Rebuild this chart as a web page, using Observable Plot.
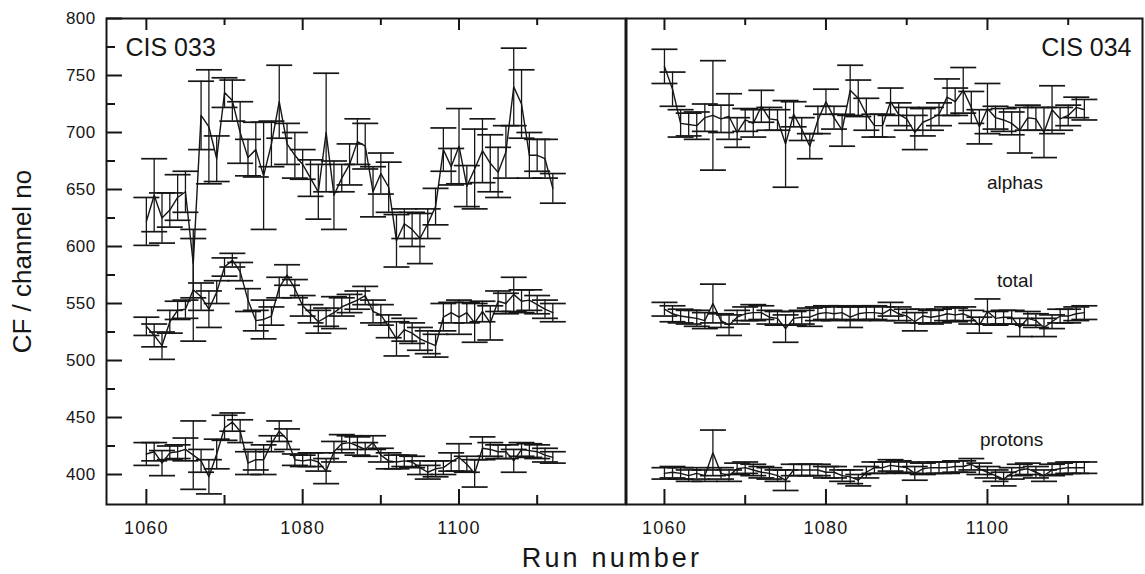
<!DOCTYPE html>
<html>
<head>
<meta charset="utf-8">
<script src="https://cdn.jsdelivr.net/npm/d3@7"></script>
<script src="https://cdn.jsdelivr.net/npm/@observablehq/plot@0.6"></script>
<style>
  html, body { margin: 0; padding: 0; background: #fff; }
  #chart { position: relative; width: 1145px; height: 574px; background: #fff;
           font-family: "Liberation Sans", Arial, Helvetica, sans-serif; color: #161616; }
  #left { position: absolute; left: 0; top: 0; }
  #right { position: absolute; left: 625px; top: 0; }
  #xtitle { position: absolute; left: 412px; width: 400px; top: 543px; height: 30px; text-align: center;
            font-size: 27px; line-height: 30px; letter-spacing: 3.2px; }
  svg text { font-family: "Liberation Sans", Arial, Helvetica, sans-serif; }
  g[aria-label="x-axis tick label"] text { letter-spacing: 1.2px; }
  g[aria-label="y-axis tick label"] text { letter-spacing: 0.4px; }
  g[aria-label="ytitle"] text { letter-spacing: 1.9px; }
  g[aria-label="panel"] text { letter-spacing: 1.4px; }
  g[aria-label="series"] text { letter-spacing: 1.4px; }
</style>
</head>
<body>
<div id="chart">
  <div id="left"></div>
  <div id="right"></div>
  <div id="xtitle">Run number</div>
</div>
<script>
// ---------- data ----------
const runs = [1060,1061,1062,1063,1064,1065,1066,1067,1068,1069,
              1070,1071,1072,1073,1074,1075,1076,1077,1078,1079,
              1080,1081,1082,1083,1084,1085,1086,1087,1088,1089,
              1090,1091,1092,1093,1094,1095,1096,1097,1098,1099,
              1100,1101,1102,1103,1104,1105,1106,1107,1108,1109,
              1110,1111,1112];

const panels = ["CIS 033", "CIS 034"];
const seriesNames = ["alphas", "total", "protons"];

// CIS 033
const alphas033 = [622,645,625,632,643,648,585,715,705,677,
                   735,728,700,678,685,662,690,727,690,680,
                   672,660,648,700,645,660,672,692,688,648,
                   664,652,605,620,615,607,620,635,685,670,
                   688,653,668,684,673,665,683,740,725,680,
                   680,677,651];
const alphasErr033 = [21,32,22,15,20,18,30,30,50,20,
                      13,18,27,16,24,47,20,32,18,20,
                      13,16,24,52,30,12,18,20,20,22,
                      18,22,23,13,15,22,13,16,19,16,
                      33,18,35,28,25,22,23,34,30,20,
                      14,17,13];
const total033 = [530,522,513,534,544,545,562,556,545,560,
                  582,588,578,553,535,536,539,564,575,563,
                  548,541,534,538,542,547,550,553,557,543,
                  540,530,519,527,524,519,516,513,538,542,
                  538,542,533,543,533,552,550,558,552,553,
                  549,545,542];
const totalErr033 = [8,10,12,10,8,8,45,12,16,10,
                     8,6,8,10,9,17,8,9,9,8,
                     9,8,10,8,14,8,8,8,8,10,
                     9,10,15,10,9,10,10,10,12,9,
                     15,9,17,9,15,9,9,15,10,9,
                     8,8,8];
const protons033 = [418,420,410,419,420,422,417,412,398,418,
                    441,446,438,410,413,413,427,438,431,413,
                    412,413,411,403,420,427,428,425,422,428,
                    417,412,411,412,411,406,402,405,406,411,
                    415,409,401,423,422,420,420,412,422,421,
                    420,417,415];
const protonsErr033 = [10,8,11,6,6,10,30,10,15,13,
                       11,8,10,10,9,13,7,9,9,5,
                       5,6,8,11,9,8,6,8,6,6,
                       6,7,6,5,5,6,6,7,6,8,
                       12,7,12,10,6,6,6,10,6,6,
                       6,6,5];

// CIS 034
const alphas034 = [758,738,708,707,706,713,715,712,714,700,
                   711,708,723,712,711,690,716,703,688,711,
                   727,713,702,737,730,716,706,706,727,716,
                   712,700,709,712,716,731,727,737,722,705,
                   721,713,711,708,702,713,712,700,720,712,
                   715,722,720];
const alphasErr034 = [15,15,12,10,12,12,48,12,20,13,
                      10,12,14,10,9,38,11,10,11,12,
                      11,10,14,22,16,14,10,10,12,10,
                      10,15,12,10,10,16,12,20,14,15,
                      22,10,10,10,20,11,10,22,21,10,
                      9,9,9];
const total034 = [545,541,539,538,537,535,550,535,531,538,
                  541,542,542,538,537,528,537,538,538,541,
                  542,541,542,538,541,542,542,541,545,541,
                  539,534,539,538,539,541,540,541,538,531,
                  543,537,538,538,529,537,535,529,534,539,
                  539,541,542];
const totalErr034 = [6,7,6,6,7,7,17,6,9,6,
                     6,7,6,6,6,12,6,6,8,6,
                     6,6,6,9,6,6,6,6,6,6,
                     6,8,6,6,6,6,6,6,6,7,
                     11,6,6,6,8,6,6,8,6,6,
                     6,6,6];
const protons034 = [401,402,401,399,401,399,419,401,399,405,
                    406,404,402,401,399,395,404,404,404,404,
                    402,402,399,398,395,402,406,406,408,407,
                    406,401,405,406,406,406,407,407,409,405,
                    402,399,396,401,404,405,402,399,404,405,
                    406,406,406];
const protonsErr034 = [5,5,5,5,5,5,20,5,5,5,
                       5,5,5,5,5,9,5,5,5,5,
                       5,5,5,6,5,5,5,5,5,5,
                       5,6,5,5,5,5,5,5,5,5,
                       5,5,6,5,5,5,5,5,5,5,
                       5,5,5];

const xTickLabels = [1060, 1080, 1100];
const xMinorTicks = [1070, 1090, 1110];
const yTickLabels = [400, 450, 500, 550, 600, 650, 700, 750, 800];
const yMinorTicks = [425, 475, 525, 575, 625, 675, 725, 775];

// annotation text placed in data space (right panel)
const seriesLabels = [
  {name: "alphas", run: 1103.4, value: 656},
  {name: "total", run: 1103.4, value: 570},
  {name: "protons", run: 1103.0, value: 430}
];

// ---------- build tables ----------
function rowsFor(values, errs, series) {
  return runs.map((run, i) => ({run, series, v: values[i], e: errs[i]}));
}
const data033 = [
  ...rowsFor(alphas033, alphasErr033, "alphas"),
  ...rowsFor(total033, totalErr033, "total"),
  ...rowsFor(protons033, protonsErr033, "protons")
];
const data034 = [
  ...rowsFor(alphas034, alphasErr034, "alphas"),
  ...rowsFor(total034, totalErr034, "total"),
  ...rowsFor(protons034, protonsErr034, "protons")
];

// ---------- styling ----------
const ink = "#161616";
const H = 545, MT = 18, MB = 41;
const innerH = H - MT - MB;
const capSymbol = { draw(ctx) { ctx.moveTo(-13, 0); ctx.lineTo(13, 0); } };

function panelPlot({data, width, marginLeft, marginRight, xDomain, showY, title, titleAnchor, titleDx, notes}) {
  const innerW = width - marginLeft - marginRight;
  const marks = [
    Plot.frame({stroke: ink, strokeWidth: 2}),
    // inward x ticks, bottom and top
    Plot.tickX(xTickLabels, {x: d => d, stroke: ink, strokeWidth: 2, insetTop: innerH - 15}),
    Plot.tickX(xMinorTicks, {x: d => d, stroke: ink, strokeWidth: 2, insetTop: innerH - 9}),
    Plot.tickX(xTickLabels, {x: d => d, stroke: ink, strokeWidth: 2, insetBottom: innerH - 12}),
    Plot.tickX(xMinorTicks, {x: d => d, stroke: ink, strokeWidth: 2, insetBottom: innerH - 7}),
    Plot.axisX({ticks: xTickLabels, tickSize: 0, tickPadding: 17, fontSize: 18, tickFormat: d => String(d), label: null, fill: ink}),
    // error bars
    Plot.ruleX(data, {x: "run", y1: d => d.v - d.e, y2: d => d.v + d.e, stroke: ink, strokeWidth: 1.3}),
    Plot.dot(data, {x: "run", y: d => d.v + d.e, symbol: capSymbol, fill: "none", stroke: ink, strokeWidth: 1.7}),
    Plot.dot(data, {x: "run", y: d => d.v - d.e, symbol: capSymbol, fill: "none", stroke: ink, strokeWidth: 1.7}),
    // connecting lines
    Plot.line(data, {x: "run", y: "v", z: "series", stroke: ink, strokeWidth: 1.4}),
    Plot.text([title], {text: d => d, frameAnchor: titleAnchor, dx: titleDx, dy: 20,
      lineAnchor: "top", textAnchor: titleAnchor === "top-left" ? "start" : "end",
      fontSize: 25, fill: ink, ariaLabel: "panel"})
  ];
  if (showY) {
    marks.push(
      Plot.tickY(yTickLabels, {y: d => d, stroke: ink, strokeWidth: 2, insetRight: innerW - 16}),
      Plot.tickY(yMinorTicks, {y: d => d, stroke: ink, strokeWidth: 2, insetRight: innerW - 9}),
      Plot.axisY({ticks: yTickLabels, tickSize: 0, tickPadding: 11, fontSize: 17, label: null, fill: ink}),
      Plot.text(["CF / channel no"], {text: d => d, frameAnchor: "left", dx: -84, rotate: -90,
        textAnchor: "middle", lineAnchor: "middle", fontSize: 26, fill: ink, ariaLabel: "ytitle"})
    );
  }
  if (notes) {
    marks.push(Plot.text(notes, {x: "run", y: "value", text: "name", fontSize: 19, fill: ink, ariaLabel: "series"}));
  }
  return Plot.plot({
    width, height: H,
    marginTop: MT, marginBottom: MB, marginLeft, marginRight,
    style: {background: "transparent", overflow: "visible", fontFamily: '"Liberation Sans", Arial, sans-serif', color: ink},
    x: {domain: xDomain, label: null},
    y: {domain: [373.7, 800], label: null, axis: showY ? undefined : null},
    marks
  });
}

document.getElementById("left").append(panelPlot({
  data: data033, width: 626, marginLeft: 106, marginRight: 1,
  xDomain: [1054.9, 1121.3], showY: true, title: panels[0], titleAnchor: "top-left", titleDx: 19
}));
document.getElementById("right").append(panelPlot({
  data: data034, width: 520, marginLeft: 1, marginRight: 3,
  xDomain: [1055.3, 1119.2], showY: false, title: panels[1], titleAnchor: "top-right", titleDx: -11,
  notes: seriesLabels
}));
</script>
</body>
</html>
